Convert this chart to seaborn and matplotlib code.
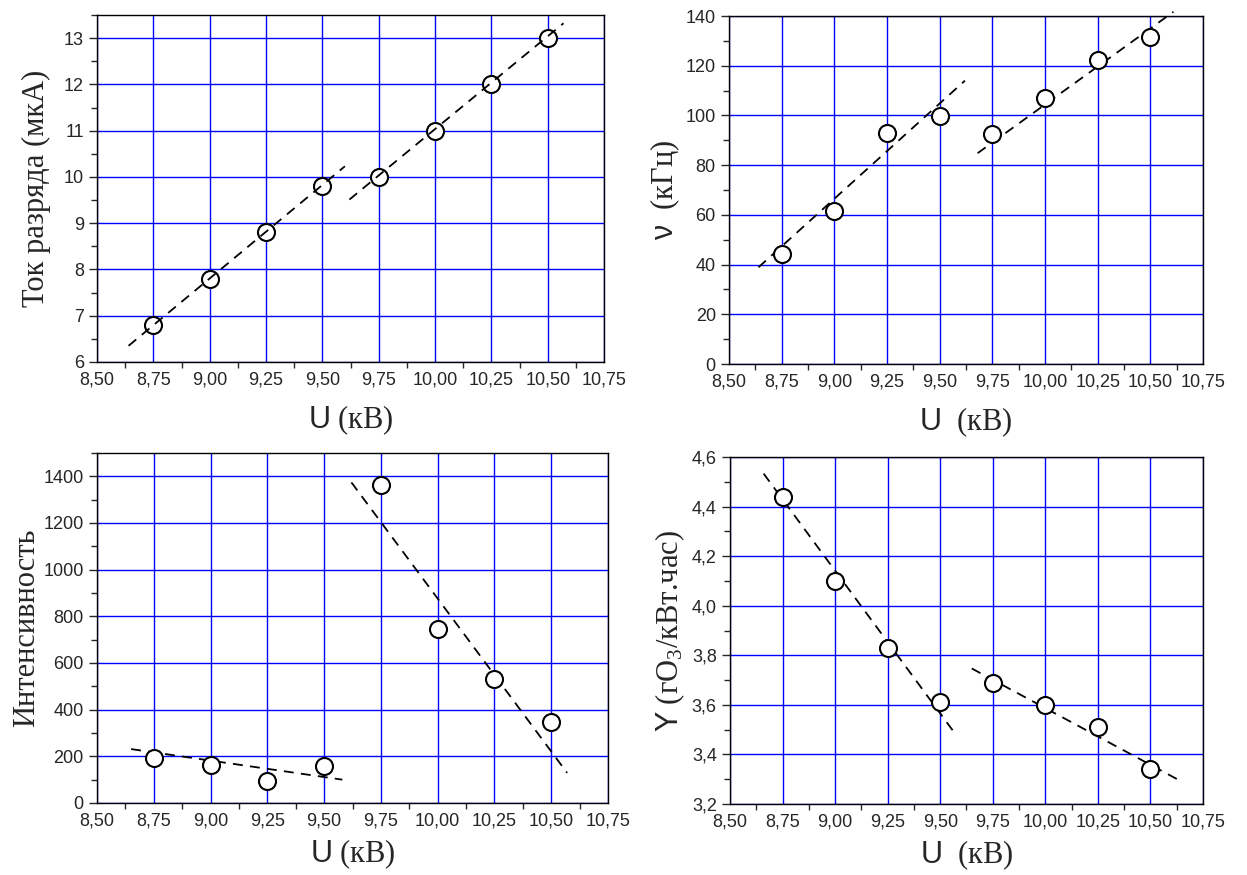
import matplotlib
matplotlib.use("Agg")
import matplotlib.pyplot as plt
import seaborn as sns
from matplotlib.ticker import MultipleLocator, FuncFormatter

sns.set_style("ticks")
plt.rcParams["font.family"] = ["Liberation Sans", "DejaVu Sans"]
plt.rcParams["mathtext.fontset"] = "custom"
plt.rcParams["mathtext.rm"] = "Liberation Serif"
plt.rcParams["mathtext.it"] = "Liberation Serif:italic"
plt.rcParams["mathtext.sf"] = "Liberation Sans"

# Data
voltage = [8.75, 9.00, 9.25, 9.50, 9.75, 10.00, 10.25, 10.50]
current = [6.8, 7.8, 8.8, 9.8, 10.0, 11.0, 12.0, 13.0]
frequency = [44.3, 61.6, 93.1, 99.6, 92.4, 106.9, 122.2, 131.7]
intensity = [193, 161, 93, 160, 1364, 746, 531, 347]
ozone_yield = [4.44, 4.10, 3.83, 3.61, 3.69, 3.60, 3.51, 3.34]

# Dashed trend lines (end points)
current_fit1_x, current_fit1_y = [8.64, 9.60], [6.35, 10.23]
current_fit2_x, current_fit2_y = [9.62, 10.57], [9.51, 13.32]
frequency_fit1_x, frequency_fit1_y = [8.64, 9.62], [38.9, 114.0]
frequency_fit2_x, frequency_fit2_y = [9.68, 10.61], [84.8, 141.7]
intensity_fit1_x, intensity_fit1_y = [8.65, 9.58], [231, 100]
intensity_fit2_x, intensity_fit2_y = [9.62, 10.57], [1374, 129]
ozone_fit1_x, ozone_fit1_y = [8.66, 9.57], [4.533, 3.485]
ozone_fit2_x, ozone_fit2_y = [9.65, 10.63], [3.747, 3.299]

x_ticks_step = 0.25
label_font = "Liberation Serif"


def comma_fmt(decimals):
    return FuncFormatter(lambda v, pos: f"{v:.{decimals}f}".replace(".", ","))


def draw_panel(ax, y, fits, ylim, ymajor, yminor, ydec, ylabel, ylabel_x, xlabel,
               xlabel_y=-0.12, line_on_top=False):
    ax.set_axisbelow(True)
    ax.grid(True, which="major", color="#0000ff", linewidth=1.0)
    line_z = 4 if line_on_top else 2
    for fx, fy in fits:
        sns.lineplot(x=fx, y=fy, ax=ax, color="black", linewidth=1.3,
                     linestyle=(0, (5.5, 4)), zorder=line_z, clip_on=False,
                     sort=False, estimator=None)
    sns.scatterplot(x=voltage, y=y, ax=ax, marker="o", s=150, color="white",
                    edgecolor="black", linewidth=1.5, zorder=3, clip_on=False)
    ax.set_xlim(8.5, 10.75)
    ax.set_ylim(*ylim)
    ax.xaxis.set_major_locator(MultipleLocator(x_ticks_step))
    ax.xaxis.set_minor_locator(MultipleLocator(x_ticks_step / 2))
    ax.yaxis.set_major_locator(MultipleLocator(ymajor))
    ax.yaxis.set_minor_locator(MultipleLocator(yminor))
    ax.xaxis.set_major_formatter(comma_fmt(2))
    ax.yaxis.set_major_formatter(comma_fmt(ydec))
    ax.tick_params(which="major", direction="out", length=6, width=1.0,
                   labelsize=13, top=False, right=False)
    ax.tick_params(axis="x", which="major", length=0, pad=7)
    ax.tick_params(which="minor", direction="out", length=4, width=1.0,
                   top=False, right=False)
    for sp in ax.spines.values():
        sp.set_visible(True)
        sp.set_linewidth(1.0)
        sp.set_color("black")
    ax.set_xlabel(xlabel, fontsize=22, fontfamily=label_font)
    ax.set_ylabel(ylabel, fontsize=22, fontfamily=label_font)
    ax.xaxis.set_label_coords(0.5, xlabel_y)
    ax.yaxis.set_label_coords(ylabel_x, 0.5)


fig = plt.figure(figsize=(12.47, 8.75), dpi=100)
ax_tl = fig.add_axes([0.0778, 0.5863, 0.4066, 0.3966])
ax_tr = fig.add_axes([0.5846, 0.5840, 0.3801, 0.3977])
ax_bl = fig.add_axes([0.0778, 0.0823, 0.4098, 0.4000])
ax_br = fig.add_axes([0.5854, 0.0811, 0.3793, 0.3966])

draw_panel(ax_tl, current, [(current_fit1_x, current_fit1_y), (current_fit2_x, current_fit2_y)],
           (6, 13.5), 1, 0.5, 0, "Ток разряда (мкА)", -0.091,
           r"$\mathsf{U}$ (кВ)", line_on_top=True)
draw_panel(ax_tr, frequency, [(frequency_fit1_x, frequency_fit1_y), (frequency_fit2_x, frequency_fit2_y)],
           (0, 140), 20, 10, 0, r"$\mathsf{ν}$  (кГц)", -0.099, r"$\mathsf{U}$  (кВ)")
draw_panel(ax_bl, intensity, [(intensity_fit1_x, intensity_fit1_y), (intensity_fit2_x, intensity_fit2_y)],
           (0, 1500), 200, 100, 0, "Интенсивность", -0.11, r"$\mathsf{U}$ (кВ)",
           xlabel_y=-0.098)
draw_panel(ax_br, ozone_yield, [(ozone_fit1_x, ozone_fit1_y), (ozone_fit2_x, ozone_fit2_y)],
           (3.2, 4.6), 0.2, 0.1, 1, r"$\mathsf{Y}$ (гО$_3$/кВт.час)", -0.091, r"$\mathsf{U}$  (кВ)",
           xlabel_y=-0.098)

fig.savefig("out.png", dpi=100)
